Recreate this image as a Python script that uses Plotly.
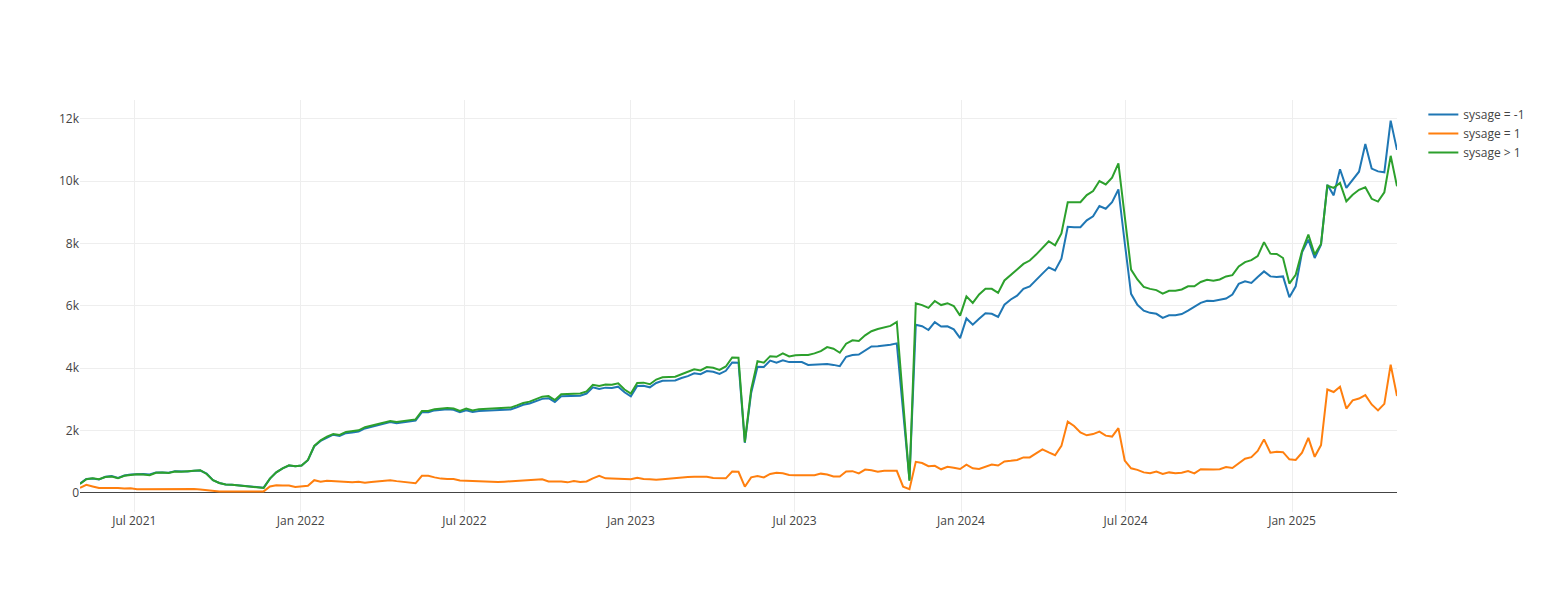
import pandas as pd
from plotly import graph_objects as go

datas = pd.date_range('2021-05-02', periods=209, freq='7D')

sysage_menos_1 = [
	290, 440, 450, 420, 510, 530, 470, 550, 580, 590, 600, 580, 650, 650, 640, 690, 680, 680, 700, 710,
	610, 400, 310, 260, 250, 230, 210, 200, 180, 160, 450, 650, 780, 870, 850, 870, 1040, 1490, 1660, 1770,
	1860, 1820, 1910, 1930, 1960, 2060, 2110, 2180, 2230, 2270, 2230, 2260, 2280, 2310, 2580, 2580, 2640, 2650, 2680, 2660,
	2580, 2640, 2590, 2620, 2630, 2650, 2670, 2670, 2670, 2740, 2820, 2860, 2930, 3010, 3030, 2910, 3090, 3100, 3100, 3110,
	3180, 3380, 3330, 3370, 3360, 3400, 3220, 3090, 3420, 3430, 3380, 3520, 3590, 3600, 3600, 3680, 3740, 3830, 3800, 3900,
	3880, 3810, 3910, 4180, 4170, 1600, 3200, 4040, 4030, 4240, 4170, 4250, 4190, 4190, 4190, 4100, 4110, 4120, 4130, 4100,
	4060, 4360, 4420, 4430, 4570, 4690, 4700, 4720, 4750, 4790, 2600, 420, 5390, 5340, 5220, 5470, 5330, 5340, 5240, 4960,
	5590, 5390, 5580, 5760, 5740, 5640, 6030, 6200, 6320, 6540, 6620, 6810, 7030, 7230, 7130, 7510, 8530, 8520, 8520, 8740,
	8870, 9200, 9110, 9320, 9730, 8020, 6380, 6030, 5840, 5770, 5740, 5610, 5690, 5690, 5730, 5840, 5960, 6090, 6160, 6150,
	6190, 6230, 6360, 6700, 6780, 6730, 6920, 7100, 6940, 6920, 6940, 6270, 6620, 7710, 8120, 7530, 7960, 9880, 9540, 10380,
	9780, 10040, 10300, 11190, 10400, 10310, 10280, 11940, 11000
]

sysage_1 = [
	150, 250, 200, 150, 150, 160, 150, 130, 140, 110, 110, 110, 120, 110, 120, 130, 130, 130, 120, 100,
	80, 50, 40, 40, 40, 40, 40, 40, 40, 40, 200, 240, 230, 230, 180, 200, 220, 400, 350, 380,
	370, 360, 340, 330, 350, 320, 340, 360, 380, 400, 370, 350, 330, 300, 540, 540, 490, 450, 440, 440,
	390, 380, 370, 360, 350, 340, 340, 350, 360, 370, 380, 400, 420, 430, 360, 360, 360, 330, 370, 340,
	360, 460, 540, 460, 450, 440, 430, 430, 480, 440, 430, 410, 430, 450, 460, 500, 500, 510, 500, 510,
	470, 460, 460, 680, 670, 190, 490, 530, 490, 600, 640, 620, 570, 560, 560, 560, 560, 610, 580, 520,
	520, 680, 690, 620, 740, 720, 670, 700, 690, 700, 190, 110, 990, 950, 850, 860, 750, 830, 800, 760,
	900, 780, 760, 840, 900, 870, 1000, 1020, 1050, 1130, 1130, 1260, 1390, 1290, 1200, 1500, 2280, 2140, 1930, 1840,
	1880, 1960, 1830, 1800, 2070, 1030, 780, 730, 650, 620, 680, 600, 650, 620, 640, 690, 620, 750, 740, 740,
	750, 820, 790, 930, 1090, 1140, 1340, 1710, 1280, 1310, 1300, 1070, 1050, 1280, 1760, 1150, 1520, 3310, 3230, 3400,
	2700, 2960, 3020, 3130, 2830, 2640, 2850, 4110, 3100
]

sysage_maior_1 = [
	280, 430, 460, 430, 500, 520, 460, 540, 570, 590, 580, 560, 640, 650, 630, 680, 670, 680, 700, 720,
	600, 400, 310, 260, 250, 230, 200, 190, 170, 150, 450, 650, 780, 880, 850, 870, 1050, 1500, 1680, 1800,
	1880, 1850, 1950, 1970, 2000, 2100, 2150, 2220, 2270, 2300, 2270, 2300, 2320, 2350, 2620, 2620, 2680, 2690, 2720, 2700,
	2620, 2700, 2640, 2680, 2690, 2710, 2730, 2730, 2730, 2800, 2880, 2920, 3000, 3080, 3100, 2970, 3160, 3170, 3170, 3180,
	3250, 3460, 3420, 3470, 3460, 3510, 3310, 3180, 3520, 3530, 3480, 3630, 3700, 3710, 3720, 3800, 3870, 3960, 3920, 4030,
	4010, 3940, 4050, 4340, 4330, 1620, 3310, 4220, 4170, 4380, 4360, 4470, 4370, 4410, 4420, 4420, 4470, 4540, 4670, 4620,
	4490, 4780, 4890, 4870, 5050, 5180, 5250, 5300, 5350, 5480, 2950, 380, 6080, 6020, 5930, 6150, 6020, 6080, 5990, 5680,
	6300, 6090, 6360, 6540, 6540, 6410, 6810, 7000, 7160, 7340, 7450, 7640, 7860, 8070, 7940, 8320, 9320, 9320, 9320, 9550,
	9680, 10000, 9890, 10110, 10570, 8870, 7160, 6840, 6600, 6540, 6500, 6390, 6480, 6480, 6520, 6620, 6620, 6760, 6830, 6800,
	6840, 6940, 6980, 7260, 7400, 7460, 7590, 8040, 7670, 7660, 7530, 6710, 6990, 7750, 8280, 7640, 7980, 9850, 9780, 9940,
	9350, 9560, 9720, 9800, 9430, 9340, 9640, 10810, 9830
]

series = [
	('sysage = -1', sysage_menos_1),
	('sysage = 1', sysage_1),
	('sysage > 1', sysage_maior_1),
]

fig = go.Figure()
for nome, valores in series:
	fig.add_scatter(x=datas, y=valores, mode='lines', name=nome)

# a pagina tem 8px de margem no body, desconta aqui
fig.update_layout(
	template='none',
	width=1534,
	height=584,
	font={'family': '"Open Sans", verdana, arial, sans-serif', 'size': 12, 'color': '#444'},
	margin={'l': 72, 'r': 80, 't': 92, 'b': 80},
)

fig.write_html('out.html')
